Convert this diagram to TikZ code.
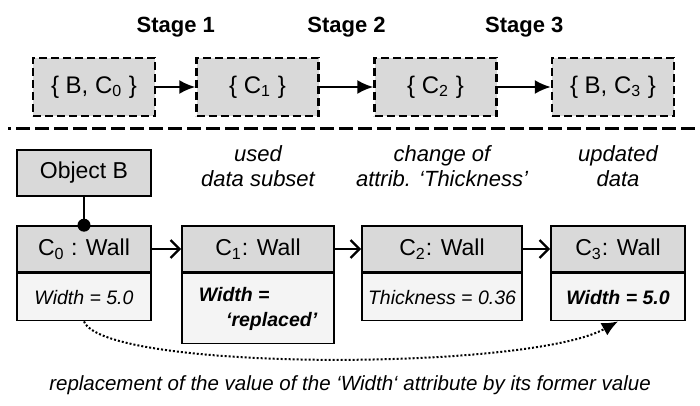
\documentclass[tikz,border=0pt]{standalone}
\usepackage{fontspec}
\setmainfont{Liberation Sans}
\usetikzlibrary{positioning,arrows,arrows.meta,calc}
\definecolor{headgray}{HTML}{D9D9D9}
\definecolor{attgray}{HTML}{F4F4F4}
\tikzset{
    on grid,
    node distance=80pt,
    auto,
    set/.style = {
        draw,
        shape=rectangle,
        fill=headgray,
        dash pattern=on 4pt off 2pt,
        minimum height=29pt,
        minimum width=61pt,
        line width=1.25pt,
        font=\fontsize{12}{14}\selectfont
    },
    head/.style = {
        draw,
        shape=rectangle,
        fill=headgray,
        minimum height=23pt,
        inner sep=2pt,
        line width=0.8pt,
        font=\fontsize{11.5}{13}\selectfont
    },
    attrib/.style = {
        draw,
        shape=rectangle,
        fill=attgray,
        anchor=north,
        minimum height=23.5pt,
        inner sep=2pt,
        line width=0.8pt,
        font=\fontsize{9.75}{12.5}\selectfont\itshape
    },
    stage/.style = {
        font=\fontsize{11}{13}\selectfont\bfseries
    },
    note/.style = {
        align=center,
        font=\fontsize{11}{12.5}\selectfont\itshape
    },
    flow/.style = {
        draw,
        line width=1pt,
        -{Latex[length=8pt,width=7pt]}
    },
    link/.style = {
        draw,
        line width=1.2pt,
        -{Straight Barb[length=4.5pt,width=9pt]}
    },
}

\begin{document}
\begin{tikzpicture}
        \useasboundingbox (0,0) rectangle (350pt,-203pt);

        \node[set] at (47pt,-43.5pt) (set0) {\{ B, C\textsubscript{0} \}};
        \node[set, right=81.75pt of set0] (set1) {\{ C\textsubscript{1} \}};
        \node[set, right=89pt of set1] (set2) {\{ C\textsubscript{2} \}};
        \node[set, right=88.75pt of set2] (set3) {\{ B, C\textsubscript{3} \}};
        \node[stage] at ($(set0)!0.5!(set1)+(0,30pt)$) (stage1) {Stage 1};
        \node[stage] at ($(set1)!0.5!(set2)+(0,30pt)$) (stage2) {Stage 2};
        \node[stage] at ($(set2)!0.5!(set3)+(0,30pt)$) (stage3) {Stage 3};

        \path[flow] (set0) -- (set1);
        \path[flow] (set1) -- (set2);
        \path[flow] (set2) -- (set3);

        \coordinate (sepl) at (4pt,-64.5pt);
        \coordinate (sepr) at (350pt,-64.5pt);
        \path[draw, line width=1.5pt, dash pattern=on 7pt off 2.5pt, dash phase=5.5pt] (sepl) -- (sepr);

        \node[head, minimum width=67pt] at (42pt,-86.5pt) (objb) {Object B};
        \node[head, minimum width=67pt, below=38pt of objb] (c0) {C\textsubscript{0} : Wall};
        \node[head, minimum width=76pt, right=87pt of c0] (c1) {C\textsubscript{1}: Wall};
        \node[head, minimum width=80pt, right=92pt of c1] (c2) {C\textsubscript{2}: Wall};
        \node[head, minimum width=67pt, right=88pt of c2] (c3) {C\textsubscript{3}: Wall};

        \node[attrib, minimum width=67pt] at (c0.south) (c0att) {Width = 5.0};
        \node[attrib, minimum width=76pt, minimum height=35pt, align=left] at (c1.south) (c1att)
            {\bfseries Width =\\\hspace{1.4em}\bfseries ‘replaced’};
        \node[attrib, minimum width=80pt] at (c2.south) (c2att) {Thickness = 0.36};
        \node[attrib, minimum width=67pt] at (c3.south) (c3att) {\bfseries Width = 5.0};

        \node[note, above=41.5pt of c1] (used) {used\\data subset};
        \node[note, above=41.5pt of c2] (change) {change of\\attrib. ‘Thickness’};
        \node[note, above=41.5pt of c3] (updated) {updated\\data};
        \node[note, font=\fontsize{10.25}{12}\selectfont\itshape] at (175pt,-192.5pt) (caption)
            {replacement of the value of the ‘Width‘ attribute by its former value};

        \path[draw, line width=0.8pt] (objb) -- (c0.north);
        \fill (c0.north) circle (3.25pt);

        \path[link] (c0) -- (c1);
        \path[link] (c1) -- (c2);
        \path[link] (c2) -- (c3);

        \path[draw, densely dotted, line width=1pt, -{Latex[length=8pt,width=7pt]}] (c0att.south)
            .. controls +(10pt,-25pt) and +(-45pt,-25pt) .. (c3att.south);
    \end{tikzpicture}
\end{document}
